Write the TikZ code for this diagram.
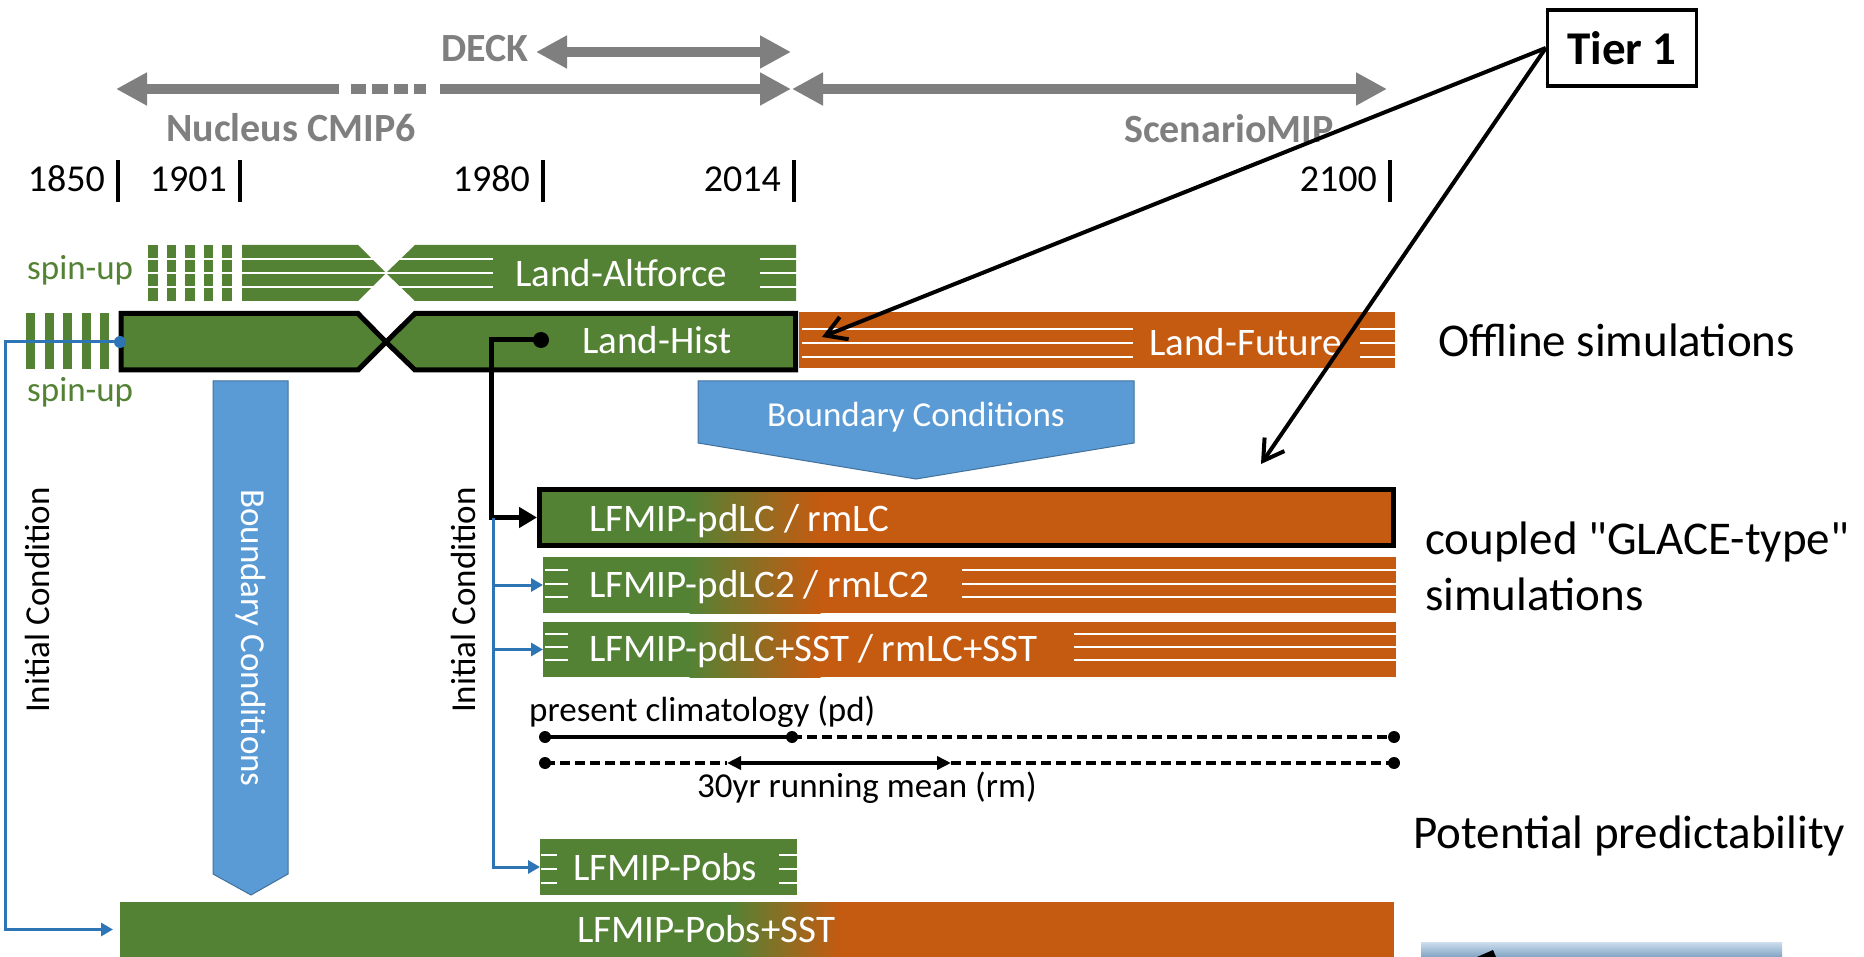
\documentclass[tikz,border=0pt]{standalone}
\usepackage{fontspec}
\setmainfont{Carlito}
\newfontfamily\nqfont[Ligatures=TeXOff]{Carlito}
\usetikzlibrary{arrows.meta}
\definecolor{cgreen}{RGB}{84,130,53}
\definecolor{corange}{RGB}{197,90,17}
\definecolor{cblue}{RGB}{91,155,213}
\definecolor{cblueedge}{RGB}{65,113,156}
\definecolor{cline}{RGB}{46,117,182}
\definecolor{cgray}{RGB}{127,127,127}
\definecolor{cboxtop}{RGB}{205,222,238}
\definecolor{cboxbot}{RGB}{128,163,196}
\newcommand\myfs[1]{\fontsize{#1}{#1}\selectfont}
\newcommand\sq{{\nqfont\symbol{34}}}
\begin{document}
\begin{tikzpicture}[x=1pt,y=-1pt,
  garrowtwo/.style={draw=cgray,line width=10pt,{Triangle[length=31pt,width=31pt]}-{Triangle[length=31pt,width=31pt]}},
  garrowone/.style={draw=cgray,line width=10pt,-{Triangle[length=31pt,width=31pt]}},
  gtext/.style={font=\myfs{40}\bfseries,text=cgray,inner sep=0pt,anchor=base west},
  yearlbl/.style={font=\myfs{38},inner sep=0pt,anchor=base east},
  tickln/.style={line width=3.5pt},
  spintext/.style={font=\myfs{35},text=cgreen,inner sep=0pt,anchor=base west},
  bartext/.style={font=\myfs{39},text=white,inner sep=0pt,anchor=base west},
  smalltext/.style={font=\myfs{35},inner sep=0pt,anchor=base west},
  sidetext/.style={font=\myfs{47},inner sep=0pt,anchor=base west},
  wl/.style={draw=white,line width=2.5pt},
  bar/.style={inner sep=0pt,outer sep=0pt,anchor=north west},
  bluearrow/.style={fill=cblue,draw=cblueedge,line width=1pt},
  btext/.style={font=\myfs{35},text=white,inner sep=0pt},
  blk/.style={line width=5pt,line join=miter,-{Triangle[length=18pt,width=20pt]}},
  bl/.style={draw=cline,line width=3pt,-{Triangle[length=12pt,width=13pt]}},
  tarr/.style={line width=4pt,-{Straight Barb[length=20pt,width=24pt]}},
  pdline/.style={line width=3.5pt},
  pddash/.style={line width=3.5pt,dash pattern=on 10pt off 5pt},
  pdarrow/.style={line width=3.5pt,{Triangle[length=14pt,width=13pt]}-{Triangle[length=14pt,width=13pt]}}
]
\useasboundingbox (0,0) rectangle (1864,957);
\fill[white] (0,0) rectangle (1864,957);

% ---------- top timeline arrows
\coordinate (deckL) at (536,52); \coordinate (deckR) at (791,52);
\draw[garrowtwo] (deckL) -- (deckR);
\node[gtext] (deck) at (441,62) {DECK};
\coordinate (nucL) at (116,89); \coordinate (nucA) at (339,89);
\coordinate (nucB) at (440,89); \coordinate (nucR) at (791,89);
\draw[garrowone] (nucA) -- (nucL);
\draw[garrowone] (nucB) -- (nucR);
\foreach \a/\b in {351/366,372/388,394/408,414/426} \fill[cgray] (\a,84) rectangle (\b,94);
\coordinate (scL) at (792,89); \coordinate (scR) at (1387,89);
\draw[garrowtwo] (scL) -- (scR);
\node[gtext] (nuc) at (166,142) {Nucleus CMIP6};
\node[gtext] (scen) at (1124,143) {ScenarioMIP};

% ---------- years
\foreach \lbl/\x in {1850/118,1901/240,1980/543,2014/794,2100/1390} {
  \node[yearlbl] (y\lbl) at (\x-13,192) {\lbl};
  \draw[tickln] (\x,160) -- (\x,202);
}

% ---------- Land-Altforce
\foreach \x in {148,166.5,185,203.5,222} \fill[cgreen] (\x,245) rectangle ++(9.5,56);
\fill[cgreen] (242,245) -- (358,245) -- (386,273) -- (358,301) -- (242,301) -- cycle;
\fill[cgreen] (415,245) -- (796,245) -- (796,301) -- (415,301) -- (386,273) -- cycle;
\foreach \y in {259,273,287} {
  \draw[wl] (146,\y) -- (493,\y);
  \draw[wl] (760,\y) -- (797,\y);
}
\node[bartext] (altf) at (515,287) {Land-Altforce};
\node[spintext] (spinA) at (27,280) {spin-up};

% ---------- Land-Hist
\foreach \x in {26,44.5,63,81.5,100} \fill[cgreen] (\x,313) rectangle ++(9,56);
\filldraw[fill=cgreen,draw=black,line width=5pt,line join=miter]
  (121,313.5) -- (358,313.5) -- (386,342) -- (358,370) -- (121,370) -- cycle;
\filldraw[fill=cgreen,draw=black,line width=5pt,line join=miter]
  (415,313.5) -- (795.5,313.5) -- (795.5,370) -- (415,370) -- (386,342) -- cycle;
\node[bartext] (hist) at (582,354) {Land-Hist};
\node[spintext] (spinB) at (27,402) {spin-up};
\coordinate (hdot) at (541,340);
\coordinate (spindot) at (120,342);

% ---------- Land-Future
\node[bar,fill=corange,minimum width=596pt,minimum height=56pt] (fut) at (799,312) {};
\foreach \y in {329,343,357} {
  \draw[wl] (802,\y) -- (1133,\y);
  \draw[wl] (1360,\y) -- (1395,\y);
}
\node[bartext] (futt) at (1149,356) {Land-Future};

% ---------- Boundary conditions arrows
\filldraw[bluearrow] (698,381) -- (1134,381) -- (1134,443) -- (916,479) -- (698,443) -- cycle;
\node[btext,anchor=base] (bch) at (916,427) {Boundary Conditions};
\filldraw[bluearrow] (213,381) -- (288,381) -- (288,874) -- (251,895) -- (213,874) -- cycle;
\node[btext,rotate=-90] (bcv) at (251,638) {Boundary Conditions};

% ---------- Initial condition labels
\node[font=\myfs{35},inner sep=0pt,rotate=90] (icl) at (37,600) {Initial Condition};
\node[font=\myfs{35},inner sep=0pt,rotate=90] (icm) at (463,600) {Initial Condition};

% ---------- LFMIP-pdLC
\node[bar,minimum width=859pt,minimum height=61pt] (pdlc) at (537,487) {};
\fill[cgreen] (539,489) rectangle (690,546);
\shade[left color=cgreen,right color=corange] (689.5,489) rectangle (820.5,546);
\fill[corange] (820,489) rectangle (1394,546);
\draw[line width=5pt] (539.5,489.5) rectangle (1393.5,545.5);
\node[bartext] (pdlct) at (589,531) {LFMIP-pdLC / rmLC};

% ---------- LFMIP-pdLC2
\node[bar,minimum width=853pt,minimum height=56pt] (pdlc2) at (543,557) {};
\fill[cgreen] (543,557) rectangle (690,613);
\shade[left color=cgreen,right color=corange] (689.5,557) rectangle (820.5,613);
\fill[corange] (820,557) rectangle (1396,613);
\foreach \y in {570,584,597} {
  \draw[wl] (545,\y) -- (568,\y);
  \draw[wl] (962,\y) -- (1396,\y);
}
\node[bartext] (pdlc2t) at (589,597) {LFMIP-pdLC2 / rmLC2};

% ---------- LFMIP-pdLC+SST
\node[bar,minimum width=853pt,minimum height=55pt] (pdlcsst) at (543,622) {};
\fill[cgreen] (543,622) rectangle (690,677);
\shade[left color=cgreen,right color=corange] (689.5,622) rectangle (820.5,677);
\fill[corange] (820,622) rectangle (1396,677);
\foreach \y in {634,647,660} {
  \draw[wl] (545,\y) -- (568,\y);
  \draw[wl] (1074,\y) -- (1396,\y);
}
\node[bartext] (pdlcsstt) at (589,661) {LFMIP-pdLC+SST / rmLC+SST};

% ---------- pd / rm lines
\node[smalltext] (pdlbl) at (529,721) {present climatology (pd)};
\coordinate (pdA) at (545,737); \coordinate (pdB) at (792,737); \coordinate (pdC) at (1394,737);
\draw[pdline] (pdA) -- (pdB);
\draw[pddash] (pdB) -- (pdC);
\foreach \p in {pdA,pdB,pdC} \fill (\p) circle (6pt);
\coordinate (rmA) at (545,763); \coordinate (rmB) at (727,763);
\coordinate (rmC) at (951,763); \coordinate (rmD) at (1394,763);
\draw[pddash] (rmA) -- (rmB);
\draw[pdarrow] (rmB) -- (rmC);
\draw[pddash] (rmC) -- (rmD);
\foreach \p in {rmA,rmD} \fill (\p) circle (6pt);
\node[smalltext] (rmlbl) at (697,797) {30yr running mean (rm)};

% ---------- LFMIP-Pobs
\node[bar,fill=cgreen,minimum width=257pt,minimum height=56pt] (pobs) at (540,839) {};
\foreach \y in {855,869,883} {
  \draw[wl] (541,\y) -- (557,\y);
  \draw[wl] (779,\y) -- (797,\y);
}
\node[bartext] (pobst) at (573,880) {LFMIP-Pobs};

% ---------- LFMIP-Pobs+SST
\node[bar,minimum width=1274pt,minimum height=55pt] (pobssst) at (120,902) {};
\fill[cgreen] (120,902) rectangle (731,957);
\shade[left color=cgreen,right color=corange] (730.5,902) rectangle (840.5,957);
\fill[corange] (840,902) rectangle (1394,957);
\node[bartext] (pobssstt) at (577,942) {LFMIP-Pobs+SST};

% ---------- connectors
\fill (hdot) circle (8pt);
\draw[blk] (hdot) -- (491,340) |- (pdlc.west);
\coordinate (icb) at (493,518);
\draw[bl] (icb) |- (pobs.west);
\draw[bl] (icb |- pdlc2.west) -- (pdlc2.west);
\draw[bl] (icb |- pdlcsst.west) -- (pdlcsst.west);
\fill[cline] (spindot) circle (6pt);
\draw[bl,shorten >=7pt] (spindot) -- (5,342) |- (pobssst.west);

% ---------- right-hand labels
\node[sidetext] (offl) at (1438,357) {Offline simulations};
\node[sidetext] (coup) at (1425,554) {coupled \sq GLACE-type\sq};
\node[sidetext] (coup2) at (1425,610) {simulations};
\node[sidetext] (potp) at (1413,848) {Potential predictability};

% ---------- bottom-right partial box
\shade[top color=cboxtop,bottom color=cboxbot] (1421,942) rectangle (1782,957);
\fill (1477,957) -- (1493,950) -- (1496,957) -- cycle;

% ---------- Tier 1
\node[draw,line width=3.5pt,minimum width=149pt,minimum height=76pt,inner sep=0pt,
      font=\myfs{47}\bfseries] (tier) at (1622,48) {Tier 1};
\coordinate (futtip) at (822,337);
\coordinate (cpltip) at (1261,464);
\draw[tarr] (tier.west) -- (futtip);
\draw[tarr] (tier.west) -- (cpltip);
\end{tikzpicture}
\end{document}
